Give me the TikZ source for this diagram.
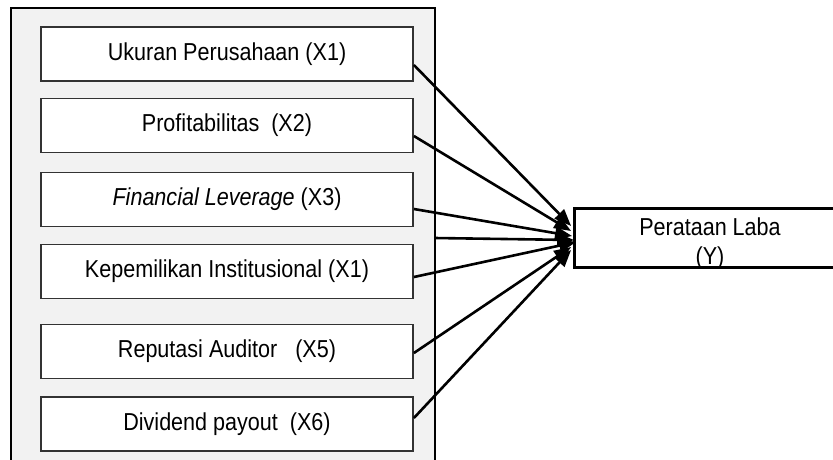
\documentclass[tikz,border=0pt]{standalone}
\usepackage{fontspec}
\setmainfont{Liberation Sans}[FakeStretch=0.88]
\usetikzlibrary{arrows.meta,calc}
\begin{document}
\begin{tikzpicture}[x=1pt,y=-1pt,
  outerbox/.style={draw=black,line width=2pt,fill=black!5},
  varbox/.style={draw=black!80,line width=1.8pt,fill=white,minimum width=372pt,minimum height=54pt,inner sep=0pt,
    font=\fontsize{24.5}{29}\selectfont},
  ybox/.style={draw=black,line width=1.8pt,fill=white,minimum width=270pt,minimum height=58pt,inner sep=0pt},
  ytext/.style={font=\fontsize{24.5}{29}\selectfont,inner sep=0pt,anchor=base},
  arr/.style={draw=black,line width=2.6pt,-{Triangle[length=17pt,width=13pt]}}]
\useasboundingbox (0,0) rectangle (833,459);
\begin{scope}
\clip (0,0) rectangle (833,459);
\draw[outerbox] (11,8) rectangle (435,475);
\coordinate (oe) at (435,238);
\node[varbox] (b1) at (227,54) {Ukuran Perusahaan (X1)};
\node[varbox] (b2) at (227,125.5) {Profitabilitas~ (X2)};
\node[varbox] (b3) at (227,199.5) {\textit{Financial Leverage} (X3)};
\node[varbox] (b4) at (227,271.5) {Kepemilikan Institusional (X1)};
\node[varbox] (b5) at (227,351.5) {Reputasi Auditor~~ (X5)};
\node[varbox] (b6) at (227,424) {Dividend payout~ (X6)};
\node[ybox] (Y) at (710,238) {};
\begin{scope}
\clip (Y.south west) rectangle (Y.north east);
\node[ytext] (yl1) at (710,235) {Perataan Laba};
\node[ytext] (yl2) at (710,264) {(Y)};
\end{scope}
\draw[line width=1.8pt] (Y.south west) rectangle (Y.north east);
\draw[arr] ([yshift=-11pt]b1.east) -- ([xshift=-3pt,yshift=12pt]Y.west);
\draw[arr] ([yshift=-10.5pt]b2.east) -- ([xshift=-3pt,yshift=7pt]Y.west);
\draw[arr] ([yshift=-9.5pt]b3.east) -- ([xshift=-2pt,yshift=2pt]Y.west);
\draw[arr] (oe) -- ([xshift=0pt,yshift=-2pt]Y.west);
\draw[arr] ([yshift=-5.5pt]b4.east) -- ([xshift=2pt,yshift=-4pt]Y.west);
\draw[arr] ([yshift=-1.5pt]b5.east) -- ([xshift=-3pt,yshift=-9pt]Y.west);
\draw[arr] ([yshift=6pt]b6.east) -- ([xshift=-3pt,yshift=-12pt]Y.west);
\end{scope}
\end{tikzpicture}
\end{document}
